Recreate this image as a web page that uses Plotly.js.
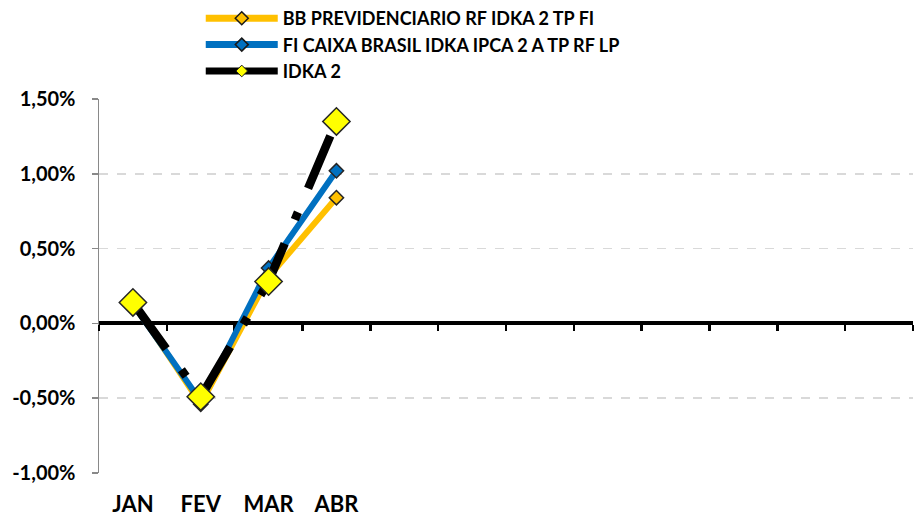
<!DOCTYPE html>
<html><head><meta charset="utf-8">
<script src="https://cdn.plot.ly/plotly-3.0.1.min.js"></script>
<style>html,body{margin:0;padding:0;background:#fff}</style>
</head><body>
<div id="chart" style="width:914px;height:519px"></div>
<script>
var months = ['JAN','FEV','MAR','ABR','MAI','JUN','JUL','AGO','SET','OUT','NOV','DEZ'];
var shownMonths = ['JAN','FEV','MAR','ABR'];
var seriesNames = ['BB PREVIDENCIARIO RF IDKA 2 TP FI','FI CAIXA BRASIL IDKA IPCA 2 A TP RF LP','IDKA 2'];
var bbValues = [0.14, -0.54, 0.31, 0.84];
var caixaValues = [0.13, -0.52, 0.37, 1.02];
var idkaValues = [0.14, -0.49, 0.28, 1.35];
var yTicks = [-1, -0.5, 0, 0.5, 1, 1.5];
var yTickText = ['-1,00%','-0,50%','0,00%','0,50%','1,00%','1,50%'];

var font = 'Lato, "Open Sans", "Liberation Sans", sans-serif';
var colors = ['#FFC000','#0070C0','#000000'];
var markerColors = ['#FFC000','#0070C0','#FFFF00'];
var idkaDash = '57px,26px,8px,26px';

var traces = [
  {x: shownMonths, y: bbValues, name: seriesNames[0], type:'scatter', mode:'lines+markers', showlegend:false,
   line:{color:colors[0], width:6},
   marker:{symbol:'diamond', size:11, color:markerColors[0], line:{color:'#262626', width:1.5}}},
  {x: shownMonths, y: caixaValues, name: seriesNames[1], type:'scatter', mode:'lines+markers', showlegend:false,
   line:{color:colors[1], width:6},
   marker:{symbol:'diamond', size:11, color:markerColors[1], line:{color:'#262626', width:1.5}}},
  {x: shownMonths, y: idkaValues, name: seriesNames[2], type:'scatter', mode:'lines+markers', showlegend:false,
   line:{color:colors[2], width:8.5, dash:idkaDash},
   marker:{symbol:'diamond', size:21, color:markerColors[2], line:{color:'#262626', width:1.5}}},
  {x: months, y: months.map(function(){return null;}), xaxis:'x2', yaxis:'y', showlegend:false,
   hoverinfo:'skip', type:'scatter', mode:'lines'}
];
// legend entries
seriesNames.forEach(function(n, i){
  traces.push({x:[null], y:[null], name:n, type:'scatter', mode:'lines+markers', showlegend:true,
    line:{color:colors[i], width:7},
    marker:{symbol:'diamond', size:(i===2?9:10), color:markerColors[i], line:{color:'#1a1a1a', width:(i===2?1:1.5)}}});
});

var layout = {
  width:914, height:519,
  margin:{l:99, r:1, t:98, b:46},
  paper_bgcolor:'#fff', plot_bgcolor:'#fff',
  font:{family:font, color:'#000'},
  showlegend:true,
  legend:{x:0.125, xanchor:'left', y:1.262, yanchor:'top', orientation:'v', itemwidth:72,
    font:{family:font, size:18, color:'#000', weight:'bold'}, bgcolor:'rgba(0,0,0,0)',
    tracegroupgap:0},
  xaxis:{type:'category', categoryorder:'array', categoryarray:months,
    range:[-0.5, 11.5], tickvals:shownMonths, ticktext:shownMonths,
    showgrid:false, zeroline:false, showline:false, ticks:'',
    tickfont:{family:font, size:22, weight:'bold', color:'#000'}, ticklabelstandoff:16},
  xaxis2:{type:'category', matches:'x', overlaying:'x', anchor:'free', position:0.4,
    categoryorder:'array', categoryarray:months,
    showline:true, linecolor:'#000', linewidth:4, ticks:'outside', tickson:'boundaries',
    ticklen:6, tickwidth:2.5, tickcolor:'#000', showticklabels:false, showgrid:false, layer:'below traces'},
  yaxis:{range:[-1, 1.5], tickvals:yTicks, ticktext:yTickText,
    showgrid:true, gridcolor:'#D9D9D9', griddash:'dash', gridwidth:1.5,
    zeroline:false, showline:true, linecolor:'#898989', linewidth:1.5,
    ticks:'outside', ticklen:6, tickcolor:'#898989', tickwidth:1.5, ticklabelstandoff:12,
    tickfont:{family:font, size:20, weight:'bold', color:'#000'}, layer:'below traces'}
};

Plotly.newPlot('chart', traces, layout, {displayModeBar:false, staticPlot:true});
</script>
</body></html>
